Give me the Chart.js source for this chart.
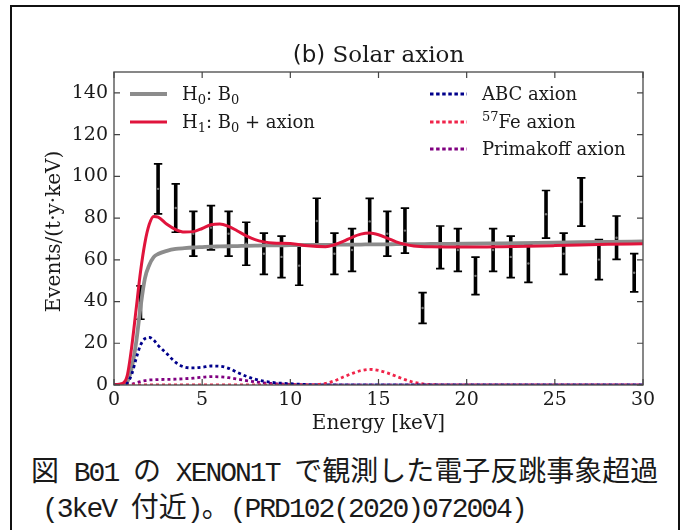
<!DOCTYPE html>
<html>
<head>
<meta charset="utf-8">
<script src="https://cdn.jsdelivr.net/npm/chart.js@4.4.1/dist/chart.umd.min.js"></script>
<style>
  html, body { margin:0; padding:0; background:#fff; width:683px; height:530px; overflow:hidden; }
  #frame { position:absolute; left:10px; top:5px; width:666px; height:600px; border:2px solid #111; border-bottom:none; }
  #c { position:absolute; left:0; top:0; }
  .cap { position:absolute; white-space:nowrap; font-family:"Noto Sans CJK JP",sans-serif; font-size:28px; line-height:34px; color:#1a1a1a; }
  .cap .l { font-family:"Liberation Mono",monospace; letter-spacing:-2px; }
</style>
</head>
<body>
<div id="frame"></div>
<canvas id="c" width="683" height="440"></canvas>
<div class="cap" style="left:31px; top:452px;">図<span class="l"> B01 </span>の<span class="l"> XENON1T </span>で観測した電子反跳事象超過</div>
<div class="cap" style="left:42px; top:488px;"><span class="l">(3keV </span>付近<span class="l">)</span>。<span class="l">(PRD102(2020)072004)</span></div>
<script>
// ---- data ----
const energyBins = [1.5,2.5,3.5,4.5,5.5,6.5,7.5,8.5,9.5,10.5,11.5,12.5,13.5,14.5,15.5,16.5,17.5,18.5,19.5,20.5,21.5,22.5,23.5,24.5,25.5,26.5,27.5,28.5,29.5];
const eventRate  = [39.5,94,84.8,72.5,75.4,72.5,67.7,62.9,61.4,57.2,78.6,62.9,64.7,78.4,72.5,74,36.9,66,64.7,52.3,64.7,61.4,58.2,81.8,62.9,87.7,60.1,70.6,53.8];
const eventErr   = [8,12,11.6,10.7,10.6,10.7,10.3,9.9,9.9,9.4,10.9,9.9,10.2,11,10.7,10.8,7.4,10.2,10.2,9,10.2,9.9,9,11.4,9.9,11.6,9.6,10.4,9.2];

const curveEnergy = [0,0.5,0.75,1,1.25,1.5,1.75,2,2.25,2.5,3,3.5,4,4.5,5,5.5,6,6.5,7,7.5,8,8.5,9,10,11,12,12.5,13,13.5,14,14.5,15,15.5,16,16.5,17,18,20,22,25,28,30];
const h0Background = [0,0.3,1.5,8,20,37,51,57.5,61.3,62.8,64.3,65.2,65.6,65.9,66.1,66.3,66.4,66.5,66.6,66.7,66.8,66.9,66.9,67,67.1,67.2,67.2,67.3,67.3,67.3,67.4,67.4,67.4,67.5,67.5,67.5,67.6,67.7,67.9,68.2,68.6,68.8];
const h1Axion = [0,0.8,4.5,18,36,54,68,77,80.8,80.5,77,74.5,73.3,73.5,75,76.8,77.2,76,73.8,71.5,69.7,68.6,68,67.8,66.7,66.3,67.2,68.8,70.8,72.3,72.8,72,70.4,68.6,67.4,66.6,66.2,66.1,66.3,66.8,67.4,67.7];
const abcAxion = [0,0.2,1,5,12.5,19,22.2,22.8,21.5,19,15,10.8,8.6,8.2,8.5,9.1,9,8,6,4.2,2.8,1.8,1.2,0.6,0.2,0.05,0,0,0,0,0,0,0,0,0,0,0,0,0,0,0,0];
const fe57Axion = [0,0,0,0,0,0,0,0,0,0,0,0,0,0,0,0,0,0,0,0,0,0,0,0,0.05,0.8,2,3.8,5.5,6.9,7.5,7,5.8,4.2,2.6,1.3,0.2,0,0,0,0,0];
const primakoffAxion = [0,0,0.1,0.4,1,1.6,2.1,2.4,2.5,2.6,2.7,2.8,3,3.3,3.7,4,3.9,3.5,2.8,2.1,1.5,1,0.7,0.3,0.1,0,0,0,0,0,0,0,0,0,0,0,0,0,0,0,0,0];

const xTicks = [0,5,10,15,20,25,30];
const yTicks = [0,20,40,60,80,100,120,140];
const yTickLabels = ['0','20','40','60','80','100','120','140'];

const titleText = 'Solar axion';
const titlePrefix = '(b)';
const xTitle = 'Energy [keV]';
const yTitle = 'Events/(t\u00b7y\u00b7keV)';

const COL_H0 = '#8c8c8c', COL_H1 = '#e0143c', COL_ABC = '#00008b', COL_FE = '#f0244a', COL_PRI = '#800080';

const pts = arr => curveEnergy.map((e,i)=>({x:e,y:arr[i]}));
const SERIF = '"DejaVu Serif", serif';

const framePlugin = {
  id:'frameDeco',
  beforeDatasetsDraw(chart){
    const {ctx, scales:{x,y}} = chart;
    ctx.save();
    ctx.strokeStyle = '#000';
    energyBins.forEach((e,i)=>{
      const px = x.getPixelForValue(e);
      const pt = y.getPixelForValue(eventRate[i]+eventErr[i]);
      const pb = y.getPixelForValue(eventRate[i]-eventErr[i]);
      ctx.lineWidth = 3.6;
      ctx.beginPath(); ctx.moveTo(px,pt); ctx.lineTo(px,pb); ctx.stroke();
      ctx.lineWidth = 1.7;
      ctx.beginPath(); ctx.moveTo(px-4.2,pt); ctx.lineTo(px+4.2,pt); ctx.moveTo(px-4.2,pb); ctx.lineTo(px+4.2,pb); ctx.stroke();
    });
    ctx.restore();
  },
  afterDraw(chart){
    const {ctx, chartArea:a, scales:{x,y}} = chart;
    ctx.save();
    ctx.strokeStyle = '#555'; ctx.lineWidth = 1.4;
    ctx.strokeRect(a.left, a.top, a.right-a.left, a.bottom-a.top);
    ctx.lineWidth = 1.2; ctx.strokeStyle='#444';
    ctx.beginPath();
    xTicks.forEach(v=>{ const p=x.getPixelForValue(v); ctx.moveTo(p,a.bottom); ctx.lineTo(p,a.bottom-6); ctx.moveTo(p,a.top); ctx.lineTo(p,a.top+6); });
    yTicks.forEach(v=>{ const p=y.getPixelForValue(v); ctx.moveTo(a.left,p); ctx.lineTo(a.left+6,p); ctx.moveTo(a.right,p); ctx.lineTo(a.right-6,p); });
    ctx.stroke();
    // title
    ctx.fillStyle = '#1a1a1a';
    ctx.textBaseline = 'alphabetic';
    ctx.font = '23px "DejaVu Sans", sans-serif';
    const w1 = ctx.measureText(titlePrefix+' ').width;
    ctx.font = '23px '+SERIF;
    const w2 = ctx.measureText(titleText).width;
    const cx = (a.left+a.right)/2;
    let sx = cx - (w1+w2)/2;
    ctx.font = '23px "DejaVu Sans", sans-serif';
    ctx.fillText(titlePrefix, sx, 62);
    ctx.font = '23px '+SERIF;
    ctx.fillText(titleText, sx+w1, 62);
    // axis titles
    ctx.font = '20px '+SERIF;
    ctx.textAlign = 'center'; ctx.textBaseline='middle';
    ctx.fillText(xTitle, cx, 424);
    ctx.save();
    ctx.translate(55,(a.top+a.bottom)/2+3); ctx.rotate(-Math.PI/2);
    ctx.fillText(yTitle,0,0);
    ctx.restore();
    // legend
    ctx.textAlign='left'; ctx.textBaseline='alphabetic';
    const seg = (x0,yy,col,w,dash)=>{ ctx.save(); ctx.strokeStyle=col; ctx.lineWidth=w; ctx.setLineDash(dash); ctx.beginPath(); ctx.moveTo(x0,yy); ctx.lineTo(x0+37,yy); ctx.stroke(); ctx.restore(); };
    const rich = (x0,yy,parts)=>{ let xx=x0; parts.forEach(([t,kind])=>{ let size=18, dy=0; if(kind==='sub'){size=13;dy=4;} if(kind==='sup'){size=13;dy=-7;} ctx.font=size+'px '+SERIF; ctx.fillText(t,xx,yy+dy); xx+=ctx.measureText(t).width; }); };
    seg(130,94,COL_H0,4,[]);
    rich(182,100,[['H',''],['0','sub'],[': B',''],['0','sub']]);
    seg(130,122,COL_H1,3,[]);
    rich(182,128,[['H',''],['1','sub'],[': B',''],['0','sub'],[' + axion','']]);
    seg(430,94,COL_ABC,3,[3.5,2.6]);
    rich(482,100,[['ABC axion','']]);
    seg(430,122,COL_FE,3,[3.5,2.6]);
    rich(482,128,[['57','sup'],['Fe axion','']]);
    seg(430,149,COL_PRI,3,[3.5,2.6]);
    rich(482,155,[['Primakoff axion','']]);
    ctx.restore();
  }
};

const lineDs = (label,arr,col,w,dash)=>({type:'line',label,data:pts(arr),borderColor:col,borderWidth:w,borderDash:dash,borderCapStyle:'butt',pointRadius:0,cubicInterpolationMode:'monotone',fill:false});

new Chart(document.getElementById('c'),{
  type:'line',
  data:{datasets:[
    lineDs('H1: B0 + axion',h1Axion,COL_H1,3,[]),
    lineDs('ABC axion',abcAxion,COL_ABC,2.8,[3,3]),
    lineDs('57Fe axion',fe57Axion,COL_FE,2.8,[3,3]),
    lineDs('Primakoff axion',primakoffAxion,COL_PRI,2.8,[3,3]),
    lineDs('H0: B0',h0Background,COL_H0,3.8,[]),
    {type:'scatter',label:'data',data:energyBins.map((e,i)=>({x:e,y:eventRate[i]})),pointRadius:1.2,pointBackgroundColor:'#777',pointBorderWidth:0}
  ]},
  options:{
    responsive:false, animation:false, devicePixelRatio:1,
    layout:{padding:{left:0,top:72,right:40,bottom:0}},
    plugins:{legend:{display:false},tooltip:{enabled:false},title:{display:false}},
    scales:{
      x:{type:'linear',min:0,max:30,
        afterBuildTicks:s=>{s.ticks=xTicks.map(v=>({value:v}));},
        afterFit:s=>{s.height=55;},
        grid:{display:false,drawTicks:false},border:{display:false},
        ticks:{padding:4,color:'#1a1a1a',font:{family:'"DejaVu Serif"',size:19},maxRotation:0,callback:v=>String(v)}},
      y:{type:'linear',min:0,max:150,
        afterBuildTicks:s=>{s.ticks=yTicks.map(v=>({value:v}));},
        afterFit:s=>{s.width=114;},
        grid:{display:false,drawTicks:false},border:{display:false},
        ticks:{padding:6,color:'#1a1a1a',font:{family:'"DejaVu Serif"',size:19},callback:(v)=>yTickLabels[yTicks.indexOf(v)]}}
    }
  },
  plugins:[framePlugin]
});
</script>
</body>
</html>
